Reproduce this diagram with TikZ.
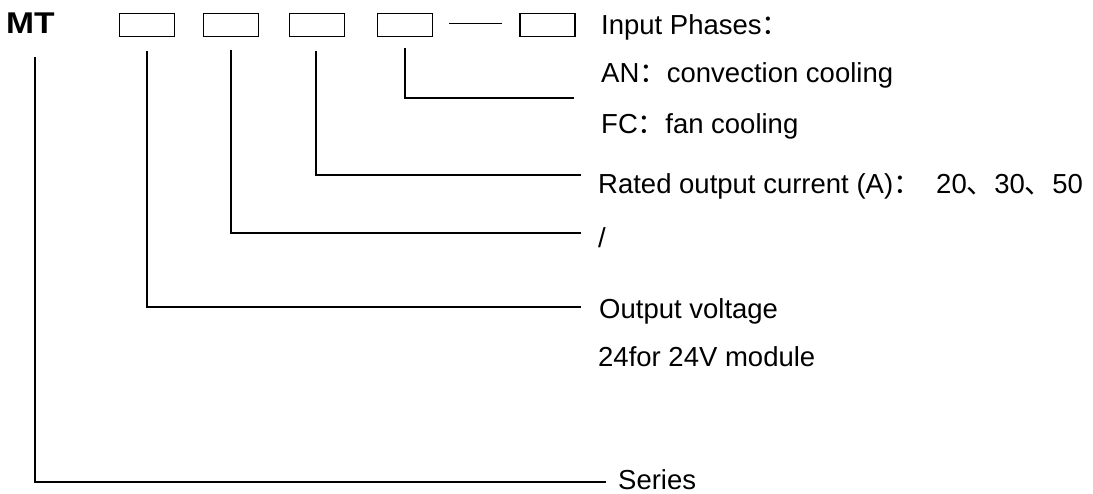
\documentclass[tikz,border=0pt]{standalone}
\usepackage{fontspec}
\setmainfont{Liberation Sans}
\newfontfamily\cjk{Noto Sans CJK SC}
\usetikzlibrary{calc}
\begin{document}
\begin{tikzpicture}[x=1pt,y=-1pt,
  codebox/.style={draw, minimum width=55pt, minimum height=23pt, inner sep=0pt, line width=1.7pt},
  lbl/.style={anchor=base west, inner sep=0pt, font=\fontsize{27.5}{30}\selectfont},
  lead/.style={line width=1.7pt}]
\useasboundingbox (0,0) rectangle (1093,493);
\fill[white] (0,0) rectangle (1093,493);
% code
\node[anchor=base west, inner sep=0pt, font=\fontsize{30}{32}\selectfont\bfseries] (mt) at (6,33.5) {\scalebox{1.12}[1]{MT}};
\node[codebox] (b1) at (147,25) {};
\node[codebox] (b2) at (231,25) {};
\node[codebox] (b3) at (317,25) {};
\node[codebox] (b4) at (405,25) {};
\node[codebox] (b5) at (547.5,25) {};
\draw[lead] ($(b4.east)+(16,-1.5)$) -- ($(b5.west)+(-17,-1.5)$);
% labels
\node[lbl] (t1) at (601,34) {Input Phases{\cjk ：}};
\node[lbl] (t2) at (601,82) {AN{\cjk ：}convection cooling};
\node[lbl] (t3) at (601,133) {FC{\cjk ：}fan cooling};
\node[lbl] (t4) at (598,193) {Rated output current (A){\cjk ：}\hspace{15.5pt}20{\cjk 、}30{\cjk 、}50};
\node[lbl] (t5) at (598,247) {/};
\node[lbl] (t6) at (599,318) {Output voltage};
\node[lbl] (t7) at (598,366) {24for 24V module};
\node[lbl] (t8) at (618,489) {Series};
% leader start / end points
\coordinate (s0) at (35,57);
\coordinate (s1) at ($(b1.south)+(0,14)$);
\coordinate (s2) at ($(b2.south)+(0,13)$);
\coordinate (s3) at ($(b3.south)+(-1,14)$);
\coordinate (s4) at ($(b4.south)+(0,11)$);
\coordinate (e0) at (606,482);
\coordinate (e1) at (581,307);
\coordinate (e2) at (581,233);
\coordinate (e3) at (581,175);
\coordinate (e4) at (574,98);
\draw[lead] (s0) |- (e0);
\draw[lead] (s1) |- (e1);
\draw[lead] (s2) |- (e2);
\draw[lead] (s3) |- (e3);
\draw[lead] (s4) |- (e4);
\end{tikzpicture}
\end{document}
